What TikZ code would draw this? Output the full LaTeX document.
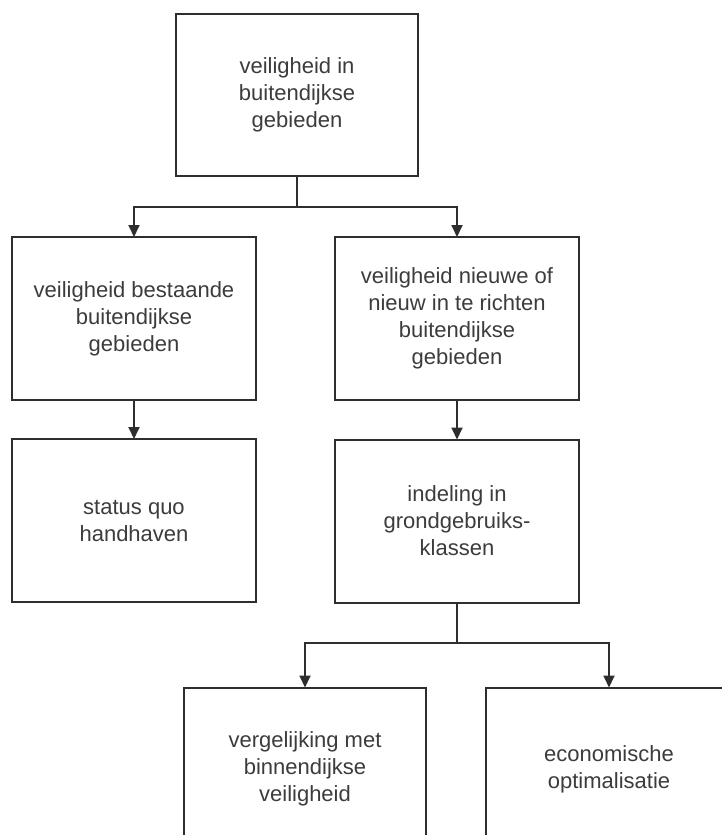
\documentclass[tikz,border=0pt]{standalone}
\usepackage{fontspec}
\setmainfont{Liberation Sans}
\usetikzlibrary{arrows.meta}
\definecolor{ink}{HTML}{2E2E2E}
\definecolor{txt}{HTML}{3C3C3C}
\begin{document}
\begin{tikzpicture}[x=1pt,y=-1pt,
  stepbox/.style={draw=ink, line width=2pt, fill=white, inner sep=0pt,
    minimum width=244pt, minimum height=163pt, align=center,
    text=txt, font=\fontsize{22}{27}\selectfont},
  link/.style={draw=ink, line width=1.8pt},
  flow/.style={link, -{Triangle[length=12pt,width=11pt]}, shorten >=-1pt}]
\useasboundingbox (0,0) rectangle (722,835);
\clip (0,0) rectangle (722,835);
\fill[white] (0,0) rectangle (722,835);

% boxes
\node[stepbox, minimum width=242pt, minimum height=162pt] (top) at (297,95)
  {veiligheid in\\buitendijkse\\gebieden};
\node[stepbox] (l2) at (134,318.5)
  {veiligheid bestaande\\buitendijkse\\gebieden};
\node[stepbox] (r2) at (457,318.5)
  {veiligheid nieuwe of\\nieuw in te richten\\buitendijkse\\gebieden};
\node[stepbox] (l3) at (134,520.5)
  {status quo\\handhaven};
\node[stepbox] (r3) at (457,521)
  {indeling in\\grondgebruiks-\\klassen};
\node[stepbox, minimum width=242pt] (b1) at (305,769)
  {vergelijking met\\binnendijkse\\veiligheid};
\node[stepbox, minimum width=246pt] (b2) at (609,769)
  {economische\\optimalisatie};

% junctions of the branching connectors
\coordinate (j1) at (297,207);
\coordinate (j2) at (457,643);

% connectors
\draw[link] (top.south) -- (j1);
\draw[flow] (j1) -| (l2.north);
\draw[flow] (j1) -| (r2.north);
\draw[flow] (l2.south) -- (l3.north);
\draw[flow] (r2.south) -- (r3.north);
\draw[link] (r3.south) -- (j2);
\draw[flow] (j2) -| (b1.north);
\draw[flow] (j2) -| (b2.north);
\end{tikzpicture}
\end{document}
